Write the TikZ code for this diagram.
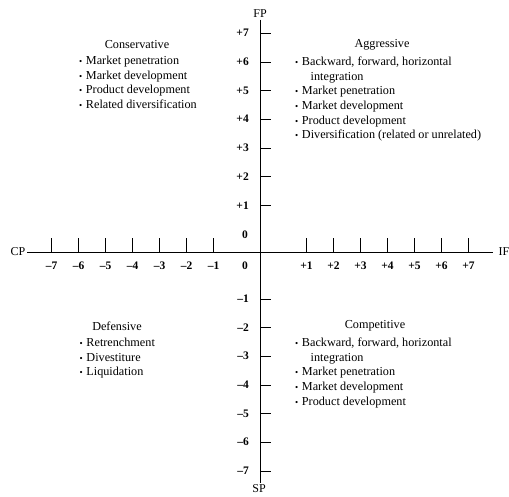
\documentclass[tikz,border=0pt]{standalone}
\usepackage{fontspec}
\setmainfont{Liberation Serif}
\usetikzlibrary{positioning}

\newcommand{\itm}{{\fontsize{9}{9}\selectfont\textbullet}\hspace{3.6pt}}

\tikzset{
  axislbl/.style={font=\fontsize{12}{12}\selectfont, inner sep=1.5pt},
  numlbl/.style={font=\bfseries\fontsize{11.5}{11.5}\selectfont, inner sep=0pt},
  qtitle/.style={font=\fontsize{12.2}{14}\selectfont, inner sep=0pt},
  qlist/.style={font=\fontsize{12.2}{14.6}\selectfont, align=left, anchor=north west, inner sep=0pt},
}

\begin{document}
\begin{tikzpicture}[x=1pt,y=-1pt]
\useasboundingbox (0,0) rectangle (509,496);

% Axes
\node[axislbl] (cp) at (18,252) {CP};
\node[axislbl, anchor=west] (if) at (497,252) {IF};
\node[axislbl] (fp) at (260,14) {FP};
\node[axislbl] (sp) at (259,489) {SP};
\draw (cp.east) -- ([xshift=-4pt]if.west);
\draw (260,0 |- fp.south) -- (260,0 |- sp.north);

% Ticks and numbers
\foreach \i in {1,...,7} {
  \draw ({279.5+27*\i},252) -- ++(0,-14);
  \draw ({240.5-27*\i},252) -- ++(0,-14);
  \node[numlbl] (hp\i) at ({279.5+27*\i},266) {+\i};
  \node[numlbl] (hm\i) at ({240.5-27*\i},266) {--\i};
  \draw (260,{234-28.7*\i}) -- ++(11,0);
  \draw (260,{270+28.7*\i}) -- ++(11,0);
  \node[numlbl, anchor=east] (vp\i) at (249,{234-28.7*\i}) {+\i};
  \node[numlbl, anchor=east] (vm\i) at (249,{270+28.7*\i}) {--\i};
}
\node[numlbl] (zv) at (245,235) {0};
\node[numlbl] (zh) at (245,266) {0};

% Quadrants
\node[qtitle] (cons) at (137,45) {Conservative};
\node[qlist] (consl) at (79,56) {\itm Market penetration\\
  \itm Market development\\
  \itm Product development\\
  \itm Related diversification};

\node[qtitle] (aggr) at (382,45) {Aggressive};
\node[qlist] (aggrl) at (295,57) {\itm Backward, forward, horizontal\\
  \hspace*{15.5pt}integration\\
  \itm Market penetration\\
  \itm Market development\\
  \itm Product development\\
  \itm Diversification (related or unrelated)};

\node[qtitle] (defn) at (117,326) {Defensive};
\node[qlist] (defnl) at (79.5,338) {\itm Retrenchment\\
  \itm Divestiture\\
  \itm Liquidation};

\node[qtitle] (comp) at (375,326) {Competitive};
\node[qlist] (compl) at (295,338) {\itm Backward, forward, horizontal\\
  \hspace*{15.5pt}integration\\
  \itm Market penetration\\
  \itm Market development\\
  \itm Product development};

\end{tikzpicture}
\end{document}
